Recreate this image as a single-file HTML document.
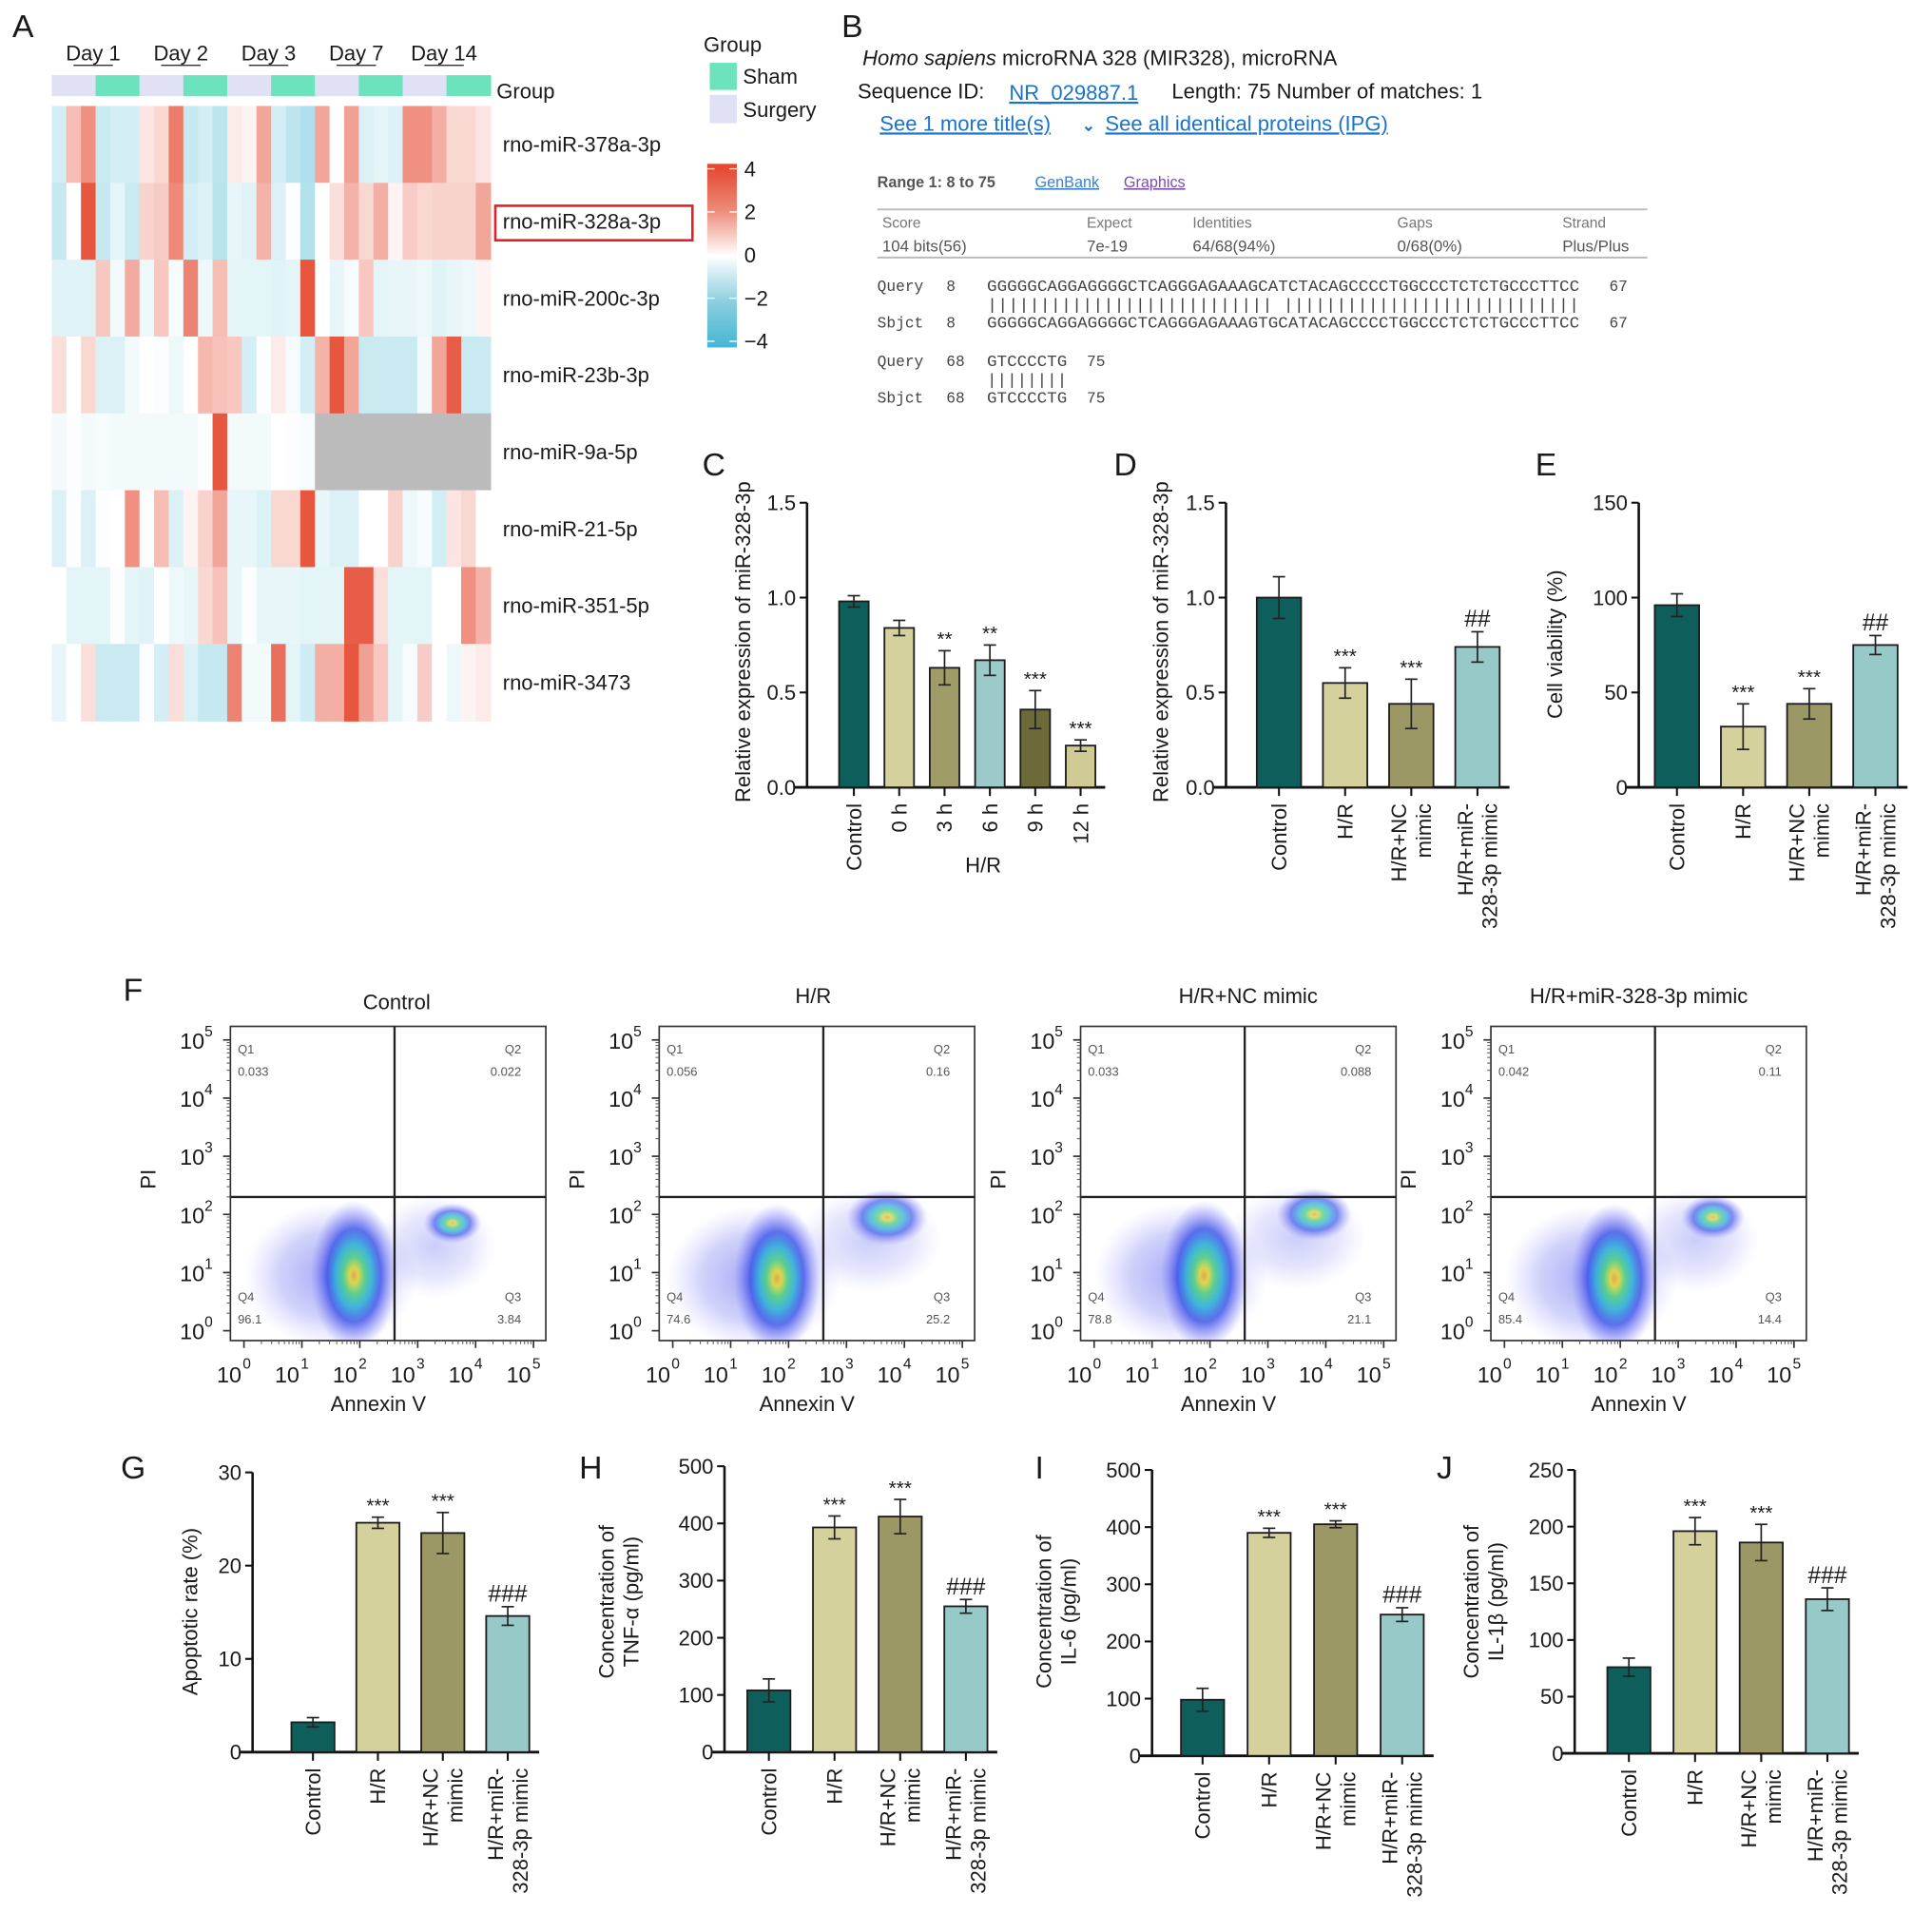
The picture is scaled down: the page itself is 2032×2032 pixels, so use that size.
<!DOCTYPE html>
<html><head><meta charset="utf-8">
<style>
html,body{margin:0;padding:0;background:#fff;}
svg{display:block;font-family:"Liberation Sans",Arial,sans-serif;}
</style></head>
<body>
<svg id="fig" width="2032" height="2032" viewBox="0 0 1568 1568" xmlns="http://www.w3.org/2000/svg">
<defs>
<radialGradient id="dens" cx="50%" cy="50%" r="50%">
<stop offset="0" stop-color="#f0a030"/>
<stop offset="0.1" stop-color="#e0dc30"/>
<stop offset="0.25" stop-color="#48d080"/>
<stop offset="0.42" stop-color="#28b0d8"/>
<stop offset="0.62" stop-color="#2a45e6" stop-opacity="0.85"/>
<stop offset="0.82" stop-color="#5a5cf0" stop-opacity="0.4"/>
<stop offset="1" stop-color="#7a7cff" stop-opacity="0"/>
</radialGradient>
<radialGradient id="haze" cx="50%" cy="50%" r="50%">
<stop offset="0" stop-color="#3a45e8" stop-opacity="0.6"/>
<stop offset="0.6" stop-color="#5a60f0" stop-opacity="0.35"/>
<stop offset="1" stop-color="#8a8cff" stop-opacity="0"/>
</radialGradient>
<linearGradient id="cbar" x1="0" y1="0" x2="0" y2="1">
<stop offset="0" stop-color="#e4442b"/>
<stop offset="0.25" stop-color="#ec8a78"/>
<stop offset="0.5" stop-color="#ffffff"/>
<stop offset="0.75" stop-color="#8ccfe0"/>
<stop offset="1" stop-color="#45b6d0"/>
</linearGradient>
</defs>
</svg>
<script>
// ---------- Heatmap data ----------
const hmRows = ["rno-miR-378a-3p","rno-miR-328a-3p","rno-miR-200c-3p","rno-miR-23b-3p","rno-miR-9a-5p","rno-miR-21-5p","rno-miR-351-5p","rno-miR-3473"];
const hmDays = ["Day 1","Day 2","Day 3","Day 7","Day 14"];
const hmRow1 = [-1,1,2,-1.2,-1,-1,0.3,0.5,2.5,-1.3,-1,-1.5,0.2,0.1,1.5,-1,-1.5,-1.8,1.5,0,1.6,-0.8,-0.6,-0.8,2,2,1.3,0.5,0.5,0.3];
const hmRow2 = [-1.3,0,3.5,-1.3,-0.6,-1.2,0.6,0.7,2.2,-1,-0.8,-1.6,-0.5,-0.7,1.2,-0.8,-0.1,-1.7,0,0.4,1.2,0.5,1.3,0.1,0.7,0.5,0.6,0.6,0.6,1.5];
const hmRow3 = [-0.7,-0.7,-0.7,0.8,-0.3,1.4,-0.4,0.8,-0.2,2.3,-0.4,1,-0.6,-0.6,-0.6,-0.7,-0.6,3.5,0,-0.5,-0.2,0.8,-0.6,-0.5,-0.5,-0.4,-0.7,-0.5,-0.4,0.1];
const hmRow4 = [0.4,0,0.5,-0.8,-0.8,-0.3,0,-0.1,-0.4,0,1.1,0.9,0.8,-1,-0.1,0.2,-0.2,-1,1.2,3.5,1.5,-1.2,-1.2,-1.2,-1.2,-0.3,1.5,3.3,-1.2,-1.2];
const hmRow5 = [-0.3,-0.1,-0.3,-0.2,-0.3,-0.3,-0.3,-0.3,-0.3,-0.3,-0.1,3.5,-0.3,-0.3,-0.3,0,-0.1,-0.2,null,null,null,null,null,null,null,null,null,null,null,null];
const hmRow6 = [-0.8,-0.1,-0.8,-0.1,0,2,-0.1,1,-0.8,0.1,0.6,1.5,-0.5,-0.5,-0.8,0.5,0.5,3.5,-0.5,-0.8,-0.8,0,0,0.6,-0.4,-0.2,-1,0.3,0.5,0];
const hmRow7 = [0,-0.6,-0.6,-0.6,-0.1,-0.6,-0.7,0,-0.4,-0.5,0.5,0.9,-0.5,-0.1,-0.5,-0.5,-0.5,-0.6,-0.6,-0.6,3.3,3.3,0.4,-0.6,-0.6,-0.6,0,0,2,1.2];
const hmRow8 = [-0.5,0,0.4,-1.2,-1.2,-1.2,-0.1,-1,0.4,-0.8,-1.3,-1.3,2.3,-0.3,-0.3,2.8,-0.6,-1.1,1.3,1.3,3.5,1.6,0.8,-0.6,-0.2,0.7,0,-0.4,0.1,0.2];
const hmData = [hmRow1,hmRow2,hmRow3,hmRow4,hmRow5,hmRow6,hmRow7,hmRow8];

// ---------- Bar chart data ----------
const cCats = ["Control","0 h","3 h","6 h","9 h","12 h"];
const cVals = [0.98,0.84,0.63,0.67,0.41,0.22];
const cErrs = [0.03,0.04,0.09,0.08,0.10,0.03];
const cSig  = ["","","**","**","***","***"];
const cTicks = [0,0.5,1.0,1.5];
const cTickLabels = ["0.0","0.5","1.0","1.5"];
const dCats = [["Control"],["H/R"],["H/R+NC","mimic"],["H/R+miR-","328-3p mimic"]];
const dVals = [1.0,0.55,0.44,0.74];
const dErrs = [0.11,0.08,0.13,0.08];
const dSig  = ["","***","***","##"];
const eVals = [96,32,44,75];
const eErrs = [6,12,8,5];
const eSig  = ["","***","***","##"];
const eTicks = [0,50,100,150];
const gVals = [3.2,24.6,23.5,14.6];
const gErrs = [0.5,0.6,2.2,1.0];
const gSig  = ["","***","***","###"];
const gTicks = [0,10,20,30];
const hVals = [108,393,412,255];
const hErrs = [20,20,30,12];
const hSig  = ["","***","***","###"];
const hTicks = [0,100,200,300,400,500];
const iVals = [98,390,405,247];
const iErrs = [20,8,6,12];
const iSig  = ["","***","***","###"];
const jVals = [76,196,186,136];
const jErrs = [8,12,16,10];
const jSig  = ["","***","***","###"];
const jTicks = [0,50,100,150,200,250];

// ---------- Flow data ----------
const flowTitles = ["Control","H/R","H/R+NC mimic","H/R+miR-328-3p mimic"];
const flowQ1 = ["0.033","0.056","0.033","0.042"];
const flowQ2 = ["0.022","0.16","0.088","0.11"];
const flowQ3 = ["3.84","25.2","21.1","14.4"];
const flowQ4 = ["96.1","74.6","78.8","85.4"];
const flowLiveX = [1.9,1.8,1.9,1.9];
const flowLiveY = [0.95,0.9,0.95,0.9];
const flowApopX = [3.6,3.7,3.8,3.6];
const flowApopY = [1.85,1.95,2.0,1.95];
const flowApopSize = [0.35,0.55,0.5,0.4];

const NS = "http://www.w3.org/2000/svg";
const svg = document.getElementById("fig");
function mk(tag, attrs, name, parent){
  const el = document.createElementNS(NS, tag);
  for (const k in attrs) el.setAttribute(k, attrs[k]);
  
  
  (parent||svg).appendChild(el);
  return el;
}
function txt(x,y,s,size,name,extra,parent){
  const a = Object.assign({x:x,y:y,'font-size':size,fill:'#1a1a1a'}, extra||{});
  const el = mk('text',a,name,parent);
  el.textContent = s;
  return el;
}

[["A",10,30],["B",683,30],["C",570,386],["D",904,386],["E",1246,386],["F",100,812],["G",98,1200],["H",470,1200],["I",840,1200],["J",1166,1200]].forEach(p=>{
  txt(p[1],p[2],p[0],26,'panel-label-'+p[0].toLowerCase());
});

// ---------- Panel A ----------
function heatColor(v){
  if (v===null) return '#bbbbbb';
  const t = Math.min(Math.abs(v)/4,1);
  const c = v>=0 ? [228,68,43] : [69,182,208];
  const f = v>=0 ? Math.pow(t,0.75) : t*0.95;
  const r = Math.round(255+(c[0]-255)*f), g=Math.round(255+(c[1]-255)*f), b=Math.round(255+(c[2]-255)*f);
  return `rgb(${r},${g},${b})`;
}
const hmX0=42, hmX1=398, hmY0=86, hmY1=585;
const nCols = hmRow1.length;
const cw=(hmX1-hmX0)/nCols, rh=(hmY1-hmY0)/hmRows.length;
const gA = mk('g',{},'heatmap');
hmData.forEach((row,ri)=>{
  row.forEach((v,ci)=>{
    mk('rect',{x:hmX0+ci*cw,y:hmY0+ri*rh,width:cw+0.6,height:rh+0.6,fill:heatColor(v)},'heatmap-cell',gA);
  });
  txt(hmX1+10, hmY0+ri*rh+rh/2+6, hmRows[ri], 17, 'row-label-'+hmRows[ri].toLowerCase());
});
for (let ci=0; ci<nCols; ci++){
  const sham = (ci%6)>=3;
  mk('rect',{x:hmX0+ci*cw,y:61,width:cw+0.6,height:17,fill:sham?'#6de3bd':'#e1e1f5'},'group-bar-cell',gA);
}
txt(403,80,'Group',17,'group-bar-label');
hmDays.forEach((d,i)=>{
  const cx = hmX0+(i*6+3)*cw;
  txt(cx-2,49,d,17,'day-label',{'text-anchor':'middle'});
  mk('line',{x1:cx-18,x2:cx+14,y1:53,y2:53,stroke:'#333','stroke-width':1},'day-underline');
});
mk('rect',{x:402,y:167,width:160,height:28,fill:'none',stroke:'#e3202a','stroke-width':2},'highlight-box');
txt(571,42,'Group',17,'legend-title');
mk('rect',{x:576,y:51,width:22,height:22,fill:'#6de3bd'},'legend-swatch-sham');
txt(603,68,'Sham',17,'legend-entry-sham');
mk('rect',{x:576,y:77,width:22,height:23,fill:'#e1e1f5'},'legend-swatch-surgery');
txt(603,95,'Surgery',17,'legend-entry-surgery');
mk('rect',{x:574,y:133,width:24,height:149,fill:'url(#cbar)'},'colorbar');
[["4",137],["2",172],["0",207],["-2",242],["-4",277]].forEach(p=>{
  mk('line',{x1:574,x2:580,y1:p[1],y2:p[1],stroke:'#fff','stroke-width':1},'colorbar-tick');
  mk('line',{x1:592,x2:598,y1:p[1],y2:p[1],stroke:'#fff','stroke-width':1},'colorbar-tick');
  txt(604,p[1]+6,p[0].replace('-','\u2212'),17,'colorbar-label');
});

// ---------- Panel B ----------
const gB = mk('g',{},'blast-result');
const t1 = txt(700,53,'',17,'blast-title',{},gB);
const ts1 = document.createElementNS(NS,'tspan'); ts1.setAttribute('font-style','italic'); ts1.textContent='Homo sapiens'; t1.appendChild(ts1);
const ts2 = document.createElementNS(NS,'tspan'); ts2.textContent=' microRNA 328 (MIR328), microRNA'; t1.appendChild(ts2);
txt(696,80,'Sequence ID:',17,'sequence-id-label',{},gB);
const link1 = txt(819,81,'NR_029887.1',17,'sequence-id-link',{fill:'#1a73c9','text-decoration':'underline'},gB);

txt(951,80,'Length: 75  Number of matches: 1',17,'length-info',{},gB);
const link2 = txt(714,106,'See 1 more title(s)',17,'see-more-titles-link',{fill:'#1a73c9','text-decoration':'underline'},gB);

txt(878,106,'\u2304',13,'dropdown-caret',{fill:'#1a73c9','font-weight':'bold'},gB);
const link3 = txt(897,106,'See all identical proteins (IPG)',17,'see-identical-proteins-link',{fill:'#1a73c9','text-decoration':'underline'},gB);

txt(712,152,'Range 1: 8 to 75',12.5,'range-label',{fill:'#555','font-weight':'bold'},gB);
const l4 = txt(840,152,'GenBank',12.5,'genbank-link',{fill:'#3a7fcf','text-decoration':'underline'},gB); 
const l5 = txt(912,152,'Graphics',12.5,'graphics-link',{fill:'#7a4fb0','text-decoration':'underline'},gB); 
mk('line',{x1:712,x2:1337,y1:170,y2:170,stroke:'#bbb','stroke-width':1.5},'table-top-line',gB);
mk('line',{x1:712,x2:1337,y1:209,y2:209,stroke:'#bbb','stroke-width':1.5},'table-bottom-line',gB);
[["Score",716],["Expect",882],["Identities",968],["Gaps",1134],["Strand",1268]].forEach(p=>txt(p[1],185,p[0],12,'table-header',{fill:'#777'},gB));
[["104 bits(56)",716],["7e-19",882],["64/68(94%)",968],["0/68(0%)",1134],["Plus/Plus",1268]].forEach(p=>txt(p[1],204,p[0],13,'table-value',{fill:'#555'},gB));
const mono = {'font-family':'"Liberation Mono",monospace',fill:'#444'};
function seqLine(y,label,num,seq,end,name){
  txt(712,y,label,12.5,name+'-label',mono,gB);
  txt(768,y,num,12.5,name+'-start',mono,gB);
  txt(801,y,seq,12.5,name+'-seq',Object.assign({textLength:seq.length*8.15,lengthAdjust:'spacingAndGlyphs'},mono),gB);
  if(end) txt(1306,y,end,12.5,name+'-end',mono,gB);
}
const q1 = "GGGGGCAGGAGGGGCTCAGGGAGAAAGCATCTACAGCCCCTGGCCCTCTCTGCCCTTCC";
const s1 = "GGGGGCAGGAGGGGCTCAGGGAGAAAGTGCATACAGCCCCTGGCCCTCTCTGCCCTTCC";
let bars1=""; for(let i=0;i<q1.length;i++) bars1 += q1[i]===s1[i]?'|':' ';
seqLine(236,'Query','8',q1,'67','query-1');
txt(801,251,bars1,12.5,'match-bars-1',Object.assign({textLength:q1.length*8.15,lengthAdjust:'spacingAndGlyphs','xml:space':'preserve'},mono),gB);
seqLine(266,'Sbjct','8',s1,'67','sbjct-1');
txt(712,297,'Query',12.5,'query-2-label',mono,gB);txt(768,297,'68',12.5,'query-2-start',mono,gB);
txt(801,297,'GTCCCCTG',12.5,'query-2-seq',Object.assign({textLength:65,lengthAdjust:'spacingAndGlyphs'},mono),gB);txt(882,297,'75',12.5,'query-2-end',mono,gB);
txt(801,312,'||||||||',12.5,'match-bars-2',Object.assign({textLength:65,lengthAdjust:'spacingAndGlyphs'},mono),gB);
txt(712,327,'Sbjct',12.5,'sbjct-2-label',mono,gB);txt(768,327,'68',12.5,'sbjct-2-start',mono,gB);
txt(801,327,'GTCCCCTG',12.5,'sbjct-2-seq',Object.assign({textLength:65,lengthAdjust:'spacingAndGlyphs'},mono),gB);txt(882,327,'75',12.5,'sbjct-2-end',mono,gB);

// ---------- Bar charts ----------
function barChart(o){
  const g = mk('g',{},o.name);
  const ys = v => o.y0 - (v/o.max)*(o.y0-o.yTop);
  const xs = i => o.x0 + i*o.step;
  const xEnd = xs(o.vals.length-1) + o.bw/2 + 8;
  mk('line',{x1:o.axisX,x2:o.axisX,y1:o.y0,y2:o.yTop,stroke:'#111','stroke-width':2},'y-axis',g);
  mk('line',{x1:o.axisX-10,x2:xEnd,y1:o.y0,y2:o.y0,stroke:'#111','stroke-width':2.2},'x-axis',g);
  o.ticks.forEach((t,k)=>{
    mk('line',{x1:o.axisX-6,x2:o.axisX,y1:ys(t),y2:ys(t),stroke:'#111','stroke-width':1.6},'y-tick',g);
    txt(o.axisX-9,ys(t)+6,o.tickLabels?o.tickLabels[k]:String(t),17,'y-tick-label',{'text-anchor':'end'},g);
  });
  o.vals.forEach((v,i)=>{
    const x = xs(i);
    mk('rect',{x:x-o.bw/2,y:ys(v),width:o.bw,height:o.y0-ys(v),fill:o.colors[i],stroke:'#1c1c1c','stroke-width':1.4},'bar-'+i,g);
    const et = ys(v+o.errs[i]), eb = ys(v-o.errs[i]);
    mk('line',{x1:x,x2:x,y1:et,y2:eb,stroke:'#222','stroke-width':1.3},'error-bar',g);
    mk('line',{x1:x-5,x2:x+5,y1:et,y2:et,stroke:'#222','stroke-width':1.3},'error-cap',g);
    mk('line',{x1:x-5,x2:x+5,y1:eb,y2:eb,stroke:'#222','stroke-width':1.3},'error-cap',g);
    mk('line',{x1:x,x2:x,y1:o.y0,y2:o.y0+7,stroke:'#111','stroke-width':1.6},'x-tick',g);
    if(o.sig[i]) txt(x,et-4,o.sig[i],o.sig[i][0]==='#'?19:16,'significance-mark',{'text-anchor':'middle'},g);
    const lines = o.cats[i];
    const n = lines.length;
    lines.forEach((ln,li)=>{
      const lx = x + 6 + (li-(n-1)/2)*20 ;
      const ly = o.y0 + 13;
      txt(0,0,ln,17,'x-tick-label',{'text-anchor':'end',transform:`translate(${lx},${ly}) rotate(-90)`},g);
    });
  });
  o.yTitle.forEach((ln,li)=>{
    const tx = o.titleX + li*20;
    txt(0,0,ln,17,'y-axis-title',{'text-anchor':'middle',transform:`translate(${tx},${o.titleY}) rotate(-90)`},g);
  });
}
const colC = ['#0e5f5b','#d4d19d','#a09c68','#9ccaca','#6c6a38','#d0cb94'];
const col4 = ['#0e5f5b','#d4d19d','#9c9866','#97c9c9'];
barChart({name:'chart-c',axisX:655,x0:693,step:36.8,bw:24,y0:639,yTop:408,max:1.5,ticks:cTicks,tickLabels:cTickLabels,vals:cVals,errs:cErrs,sig:cSig,cats:cCats.map(c=>[c]),colors:colC,yTitle:['Relative expression of miR-328-3p'],titleX:609,titleY:521});
txt(798,708,'H/R',17,'x-group-label-hr',{'text-anchor':'middle'});
barChart({name:'chart-d',axisX:995,x0:1038,step:53.7,bw:36,y0:639,yTop:408,max:1.5,ticks:cTicks,tickLabels:cTickLabels,vals:dVals,errs:dErrs,sig:dSig,cats:dCats,colors:col4,yTitle:['Relative expression of miR-328-3p'],titleX:948,titleY:521});
barChart({name:'chart-e',axisX:1330,x0:1361,step:53.7,bw:36,y0:639,yTop:408,max:150,ticks:eTicks,vals:eVals,errs:eErrs,sig:eSig,cats:dCats,colors:col4,yTitle:['Cell viability (%)'],titleX:1268,titleY:523});
barChart({name:'chart-g',axisX:205,x0:254,step:52.7,bw:35,y0:1422,yTop:1195,max:30,ticks:gTicks,vals:gVals,errs:gErrs,sig:gSig,cats:dCats,colors:col4,yTitle:['Apoptotic rate (%)'],titleX:160,titleY:1308});
barChart({name:'chart-h',axisX:588,x0:624,step:53.3,bw:35,y0:1422,yTop:1190,max:500,ticks:hTicks,vals:hVals,errs:hErrs,sig:hSig,cats:dCats,colors:col4,yTitle:['Concentration of','TNF-\u03b1 (pg/ml)'],titleX:498,titleY:1300});
barChart({name:'chart-i',axisX:935,x0:976,step:54,bw:35,y0:1425,yTop:1193,max:500,ticks:hTicks,vals:iVals,errs:iErrs,sig:iSig,cats:dCats,colors:col4,yTitle:['Concentration of','IL-6 (pg/ml)'],titleX:853,titleY:1308});
barChart({name:'chart-j',axisX:1278,x0:1322,step:53.7,bw:35,y0:1423,yTop:1193,max:250,ticks:jTicks,vals:jVals,errs:jErrs,sig:jSig,cats:dCats,colors:col4,yTitle:['Concentration of','IL-1\u03b2 (pg/ml)'],titleX:1200,titleY:1300});

// ---------- Flow plots ----------
const flowOx = [187,535,877,1210];
const flowTitleX = [322,660,1013,1330];
flowOx.forEach((ox,k)=>{
  const g = mk('g',{},'flow-plot-'+k);
  const lx = v => ox + 11 + v*47;
  const ly = v => 1080 - v*47.2;
  const clip = mk('clipPath',{id:'clip'+k},'clip',g);
  mk('rect',{x:ox,y:833,width:256,height:255},'clip-rect',clip);
  const cg = mk('g',{'clip-path':`url(#clip${k})`},'events',g);
  mk('ellipse',{cx:lx(flowLiveX[k]-0.4),cy:ly(flowLiveY[k]),rx:47*1.5,ry:47*1.25,fill:'url(#haze)',opacity:0.8},'live-haze',cg);
  mk('ellipse',{cx:lx(flowApopX[k]-0.3),cy:ly(flowApopY[k]-0.4),rx:47*(flowApopSize[k]+0.7),ry:47*0.9,fill:'url(#haze)',opacity:0.45},'apoptotic-haze',cg);
  mk('ellipse',{cx:lx(flowLiveX[k]),cy:ly(flowLiveY[k]),rx:47*0.75,ry:47*1.3,fill:'url(#dens)',opacity:0.85},'live-cluster',cg);
  mk('ellipse',{cx:lx(flowApopX[k]),cy:ly(flowApopY[k]),rx:47*(flowApopSize[k]+0.15),ry:47*(flowApopSize[k]*0.7+0.1),fill:'url(#dens)',opacity:0.7},'apoptotic-cluster',cg);
  mk('rect',{x:ox,y:833,width:256,height:255,fill:'none',stroke:'#333','stroke-width':1.3},'plot-frame',g);
  mk('line',{x1:ox,x2:ox+256,y1:ly(2.3),y2:ly(2.3),stroke:'#222','stroke-width':1.8},'quadrant-h',g);
  mk('line',{x1:lx(2.6),x2:lx(2.6),y1:833,y2:1088,stroke:'#222','stroke-width':1.8},'quadrant-v',g);
  for(let d=0; d<=5; d++){
    mk('line',{x1:ox-6,x2:ox,y1:ly(d),y2:ly(d),stroke:'#333','stroke-width':1.3},'y-tick',g);
    mk('line',{x1:lx(d),x2:lx(d),y1:1088,y2:1094,stroke:'#333','stroke-width':1.3},'x-tick',g);
    txt(ox-21,ly(d)+7,'10',18,'y-tick-label',{'text-anchor':'end'},g);
    txt(ox-21,ly(d)-3,String(d),12,'y-tick-exp',{},g);
    txt(lx(d)-2,1122,'10',18,'x-tick-label',{'text-anchor':'end'},g);
    txt(lx(d)-1,1111,String(d),12,'x-tick-exp',{},g);
    if(d<5) for(let m=2;m<10;m++){
      const f = Math.log10(m);
      mk('line',{x1:ox-3,x2:ox,y1:ly(d+f),y2:ly(d+f),stroke:'#555','stroke-width':0.8},'y-minor-tick',g);
      mk('line',{x1:lx(d+f),x2:lx(d+f),y1:1088,y2:1091,stroke:'#555','stroke-width':0.8},'x-minor-tick',g);
    }
  }
  txt(flowTitleX[k],(k===0?819:814),flowTitles[k],17,'flow-title',{'text-anchor':'middle'},g);
  txt(ox+120,1145,'Annexin V',17,'x-axis-title',{'text-anchor':'middle'},g);
  txt(0,0,'PI',17,'y-axis-title',{'text-anchor':'middle',transform:`translate(${ox-61},957) rotate(-90)`},g);
  const sm = {fill:'#555'};
  txt(ox+6,855,'Q1',10,'q1-label',sm,g); txt(ox+6,873,flowQ1[k],10,'q1-value',sm,g);
  txt(ox+236,855,'Q2',10,'q2-label',Object.assign({'text-anchor':'end'},sm),g); txt(ox+236,873,flowQ2[k],10,'q2-value',Object.assign({'text-anchor':'end'},sm),g);
  txt(ox+236,1056,'Q3',10,'q3-label',Object.assign({'text-anchor':'end'},sm),g); txt(ox+236,1074,flowQ3[k],10,'q3-value',Object.assign({'text-anchor':'end'},sm),g);
  txt(ox+6,1056,'Q4',10,'q4-label',sm,g); txt(ox+6,1074,flowQ4[k],10,'q4-value',sm,g);
});
</script>
</body></html>
